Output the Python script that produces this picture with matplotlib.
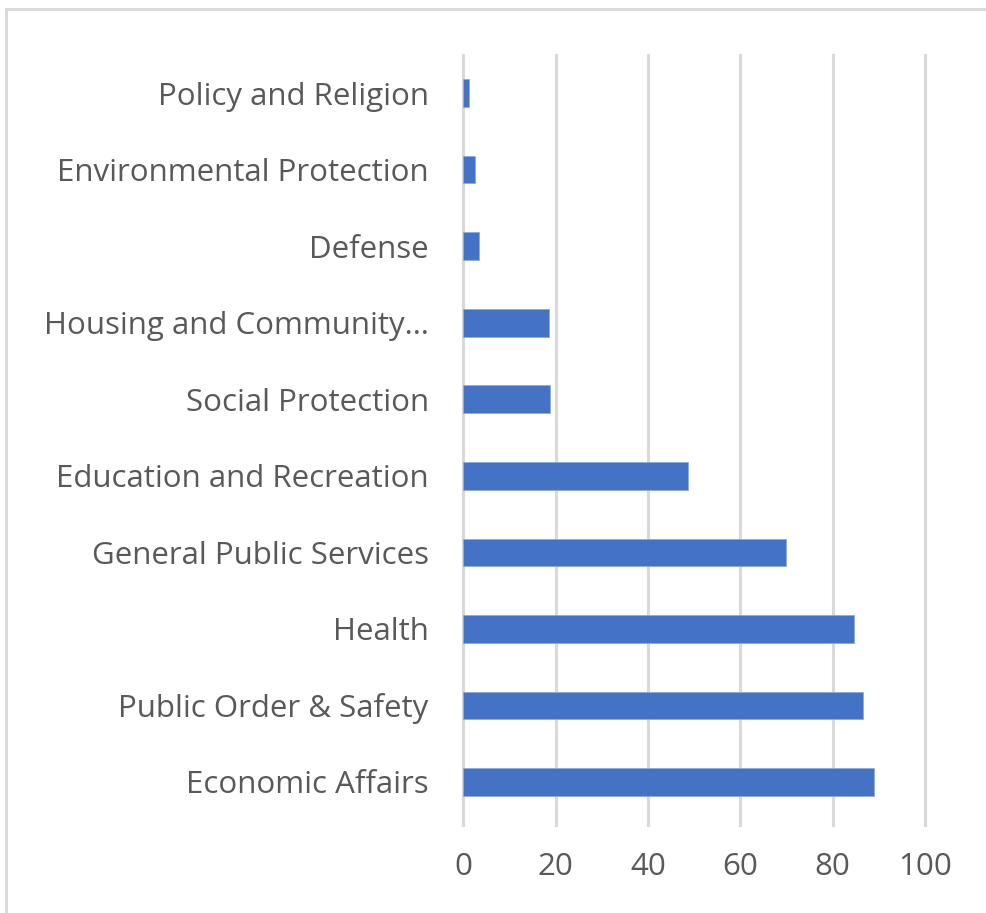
import matplotlib

matplotlib.use("Agg")

import matplotlib.pyplot as plt
from matplotlib.patches import Rectangle

# bottom to top, as drawn
categories = [
    "Economic Affairs",
    "Public Order & Safety",
    "Health",
    "General Public Services",
    "Education and Recreation",
    "Social Protection",
    "Housing and Community…",
    "Defense",
    "Environmental Protection",
    "Policy and Religion",
]
values = [88.9, 86.7, 84.6, 69.9, 48.7, 18.8, 18.5, 3.4, 2.5, 1.2]
x_ticks = [0, 20, 40, 60, 80, 100]

plt.rcParams["font.family"] = ["Open Sans", "DejaVu Sans"]
text_color = "#595959"
grid_color = "#d9d9d9"

fig = plt.figure(figsize=(9.86, 9.13), dpi=100)
ax = fig.add_axes([0.470, 0.1018, 0.468, 0.838])

ax.barh(range(len(categories)), values, height=0.36, color="#4472C4",
        edgecolor="#8faadc", linewidth=0.6, zorder=3)

ax.set_xlim(0, 100)
ax.set_ylim(-0.5, len(categories) - 0.5)
ax.set_xticks(x_ticks)
ax.set_xticklabels([str(t) for t in x_ticks])
ax.set_yticks(range(len(categories)))
ax.set_yticklabels(categories)

for t in x_ticks:
    ax.axvline(t, ymin=-0.006, ymax=1, color=grid_color, linewidth=2.2,
               zorder=1, clip_on=False)

for s in ax.spines.values():
    s.set_visible(False)
ax.tick_params(axis="both", length=0, colors=text_color, labelsize=22.5)
ax.tick_params(axis="y", pad=25)
ax.tick_params(axis="x", pad=23)

# chart area border
fig.patches.append(Rectangle((6 / 986, -0.05), 1.1, 1.05 - 9 / 913,
                             transform=fig.transFigure, fill=False,
                             edgecolor=grid_color, linewidth=2.0))

fig.savefig("out.png", dpi=100)
